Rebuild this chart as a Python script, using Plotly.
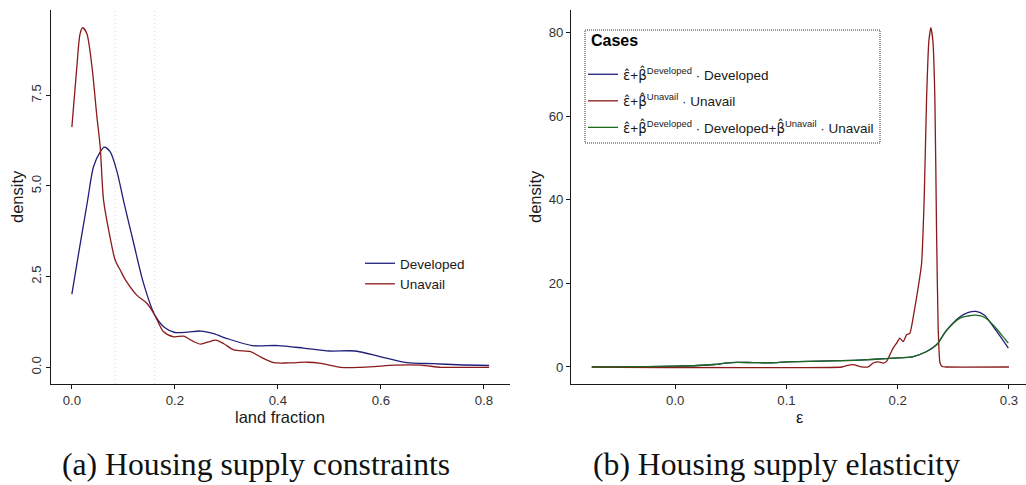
import plotly.graph_objects as go

# ---------------- data: panel (a) land fraction densities ----------------
land_dev_x = [0, 0.015, 0.03, 0.042, 0.055, 0.063, 0.0745, 0.0875, 0.1, 0.11, 0.12, 0.139, 0.161,
              0.18, 0.2, 0.225, 0.25, 0.275, 0.3, 0.35, 0.4, 0.45, 0.5, 0.55, 0.6, 0.65,
              0.7, 0.75, 0.81]
land_dev_y = [2.02, 3.3, 4.55, 5.53, 5.94, 6.07, 5.94, 5.4, 4.61, 4.01, 3.42, 2.32, 1.44,
              1.1, 0.96, 0.97, 1.0, 0.93, 0.8, 0.6, 0.6, 0.53, 0.45, 0.45, 0.29, 0.13,
              0.1, 0.07, 0.05]

land_unav_x = [0, 0.0097, 0.016, 0.021, 0.029, 0.039, 0.0486, 0.055, 0.0615, 0.0727, 0.084,
               0.095, 0.104, 0.126, 0.146, 0.161, 0.178, 0.198, 0.217, 0.235, 0.25, 0.265,
               0.279, 0.295, 0.314, 0.347, 0.367, 0.392, 0.42, 0.457, 0.483, 0.522, 0.56,
               0.587, 0.626, 0.678, 0.716, 0.76, 0.81]
land_unav_y = [6.62, 8.29, 9.2, 9.36, 9.2, 8.29, 6.91, 6.08, 4.61, 3.69, 2.96,
               2.65, 2.41, 1.99, 1.76, 1.44, 0.98, 0.84, 0.86, 0.72, 0.64, 0.7,
               0.75, 0.65, 0.48, 0.43, 0.28, 0.13, 0.12, 0.14, 0.11, 0.0, 0.0,
               0.02, 0.06, 0.06, 0.0, 0.0, 0.0]

land_vlines = [0.084, 0.1606]
land_xticks = [0, 0.2, 0.4, 0.6, 0.8]
land_xtick_labels = ["0.0", "0.2", "0.4", "0.6", "0.8"]
land_yticks = [0, 2.5, 5, 7.5]
land_ytick_labels = ["0.0", "2.5", "5.0", "7.5"]

# ---------------- data: panel (b) elasticity densities ----------------
eps_x = [-0.075, -0.05, -0.025, 0, 0.02, 0.035, 0.045, 0.055, 0.07, 0.085, 0.1, 0.12, 0.14,
         0.16, 0.18, 0.196, 0.214, 0.226, 0.235, 0.244, 0.256, 0.263, 0.2703, 0.278, 0.286,
         0.293, 0.2994]
eps_dev = [0.02, 0.05, 0.1, 0.2, 0.35, 0.6, 0.9, 1.1, 1.05, 1.0, 1.2, 1.35, 1.45,
           1.6, 1.85, 2.1, 2.5, 3.7, 5.3, 8.8, 12.0, 13.0, 13.3, 12.4, 9.6,
           7.0, 4.5]
eps_both = [0.02, 0.05, 0.1, 0.2, 0.35, 0.6, 0.9, 1.1, 1.05, 1.0, 1.2, 1.35, 1.45,
            1.6, 1.85, 2.1, 2.5, 3.7, 5.4, 8.8, 11.7, 12.2, 12.4, 11.9, 10.0,
            7.8, 5.7]

eps_unav_x = [-0.075, 0.15, 0.154, 0.16, 0.166, 0.1734, 0.178, 0.1824, 0.187, 0.19, 0.1929,
              0.1959, 0.199, 0.2019, 0.2049, 0.208, 0.2109, 0.2145, 0.217, 0.2214, 0.2238,
              0.2259, 0.228, 0.2298, 0.2316, 0.2334, 0.2349, 0.2364, 0.238, 0.240, 0.243, 0.3]
eps_unav_y = [0, 0, 0.3, 0.55, 0.1, 0, 0.95, 1.2, 0.95, 1.35, 2.9,
              4.5, 5.7, 6.9, 6.1, 7.7, 8.05, 12.8, 16.7, 24.6, 40.4,
              64, 78, 81.2, 78, 64, 32.5, 8.8, 0.95, 0.1, 0, 0]

eps_xticks = [0, 0.1, 0.2, 0.3]
eps_xtick_labels = ["0.0", "0.1", "0.2", "0.3"]
eps_yticks = [0, 20, 40, 60, 80]
eps_ytick_labels = ["0", "20", "40", "60", "80"]

series_names = ["Developed", "Unavail"]
HAT_E = "<span style=\"font-family:'DejaVu Sans'\">ε\u0302</span>"
HAT_B = "<span style=\"font-family:'DejaVu Sans'\">β\u0302</span>"
case_names = [
    f"{HAT_E}+{HAT_B}<sup>Developed</sup> · Developed",
    f"{HAT_E}+{HAT_B}<sup>Unavail</sup> · Unavail",
    f"{HAT_E}+{HAT_B}<sup>Developed</sup> · Developed+{HAT_B}<sup>Unavail</sup> · Unavail",
]
legend2_title = "<b>Cases</b>"
captions = ["(a) Housing supply constraints", "(b) Housing supply elasticity"]

BLUE = "#1f1f7a"
RED = "#8b1a1a"
GREEN = "#1b6b1b"
SANS = "Liberation Sans, Arial, sans-serif"
W, H = 1026, 485

fig = go.Figure()

fig.add_trace(go.Scatter(x=land_dev_x, y=land_dev_y, mode="lines", name=series_names[0],
                         line=dict(color=BLUE, width=1.3, shape="spline", smoothing=0.8),
                         xaxis="x", yaxis="y", legend="legend"))
fig.add_trace(go.Scatter(x=land_unav_x, y=land_unav_y, mode="lines", name=series_names[1],
                         line=dict(color=RED, width=1.3, shape="spline", smoothing=0.8),
                         xaxis="x", yaxis="y", legend="legend"))

fig.add_trace(go.Scatter(x=eps_x, y=eps_dev, mode="lines", name=case_names[0],
                         line=dict(color=BLUE, width=1.3, shape="spline", smoothing=0.8),
                         xaxis="x2", yaxis="y2", legend="legend2", legendgroup="a"))
fig.add_trace(go.Scatter(x=eps_unav_x, y=eps_unav_y, mode="lines", name=case_names[1],
                         line=dict(color=RED, width=1.3, shape="spline", smoothing=0.5),
                         xaxis="x2", yaxis="y2", legend="legend2", legendgroup="b"))
fig.add_trace(go.Scatter(x=eps_x, y=eps_both, mode="lines", name=case_names[2],
                         line=dict(color=GREEN, width=1.3, shape="spline", smoothing=0.8),
                         xaxis="x2", yaxis="y2", legend="legend2", legendgroup="c"))

for v in land_vlines:
    fig.add_shape(type="line", xref="x", yref="y domain", x0=v, x1=v, y0=0, y1=1,
                  line=dict(color="#dadada", width=1, dash="1px,3px"), layer="below")

# dotted legend frame of panel (b)
fig.add_shape(type="rect", xref="paper", yref="paper",
              x0=585 / W, x1=880 / W, y0=1 - 143 / H, y1=1 - 30 / H,
              line=dict(color="#333333", width=1, dash="1px,1px"))

axis_common = dict(showline=True, linecolor="#1a1a1a", linewidth=1.1, ticks="outside",
                   ticklen=4, tickwidth=1.1, tickcolor="#1a1a1a", showgrid=False,
                   zeroline=False, tickfont=dict(family=SANS, size=13.2, color="#333333"))
ydom = [101 / H, 475 / H]

fig.update_layout(
    width=W, height=H, margin=dict(l=0, r=0, t=0, b=0),
    paper_bgcolor="white", plot_bgcolor="white",
    xaxis=dict(domain=[51 / W, 510 / W], range=[-0.0405, 0.8505], anchor="y",
               tickvals=land_xticks, ticktext=land_xtick_labels, **axis_common),
    yaxis=dict(domain=ydom, range=[-0.46, 9.85], anchor="x",
               tickvals=land_yticks, ticktext=land_ytick_labels, tickangle=-90, **axis_common),
    xaxis2=dict(domain=[571 / W, 1.0], range=[-0.0937, 0.3153], anchor="y2",
                tickvals=eps_xticks, ticktext=eps_xtick_labels, **axis_common),
    yaxis2=dict(domain=ydom, range=[-4.07, 85.4], anchor="x2",
                tickvals=eps_yticks, ticktext=eps_ytick_labels, **axis_common),
    legend=dict(x=360 / W, y=1 - 248 / H, xanchor="left", yanchor="top",
                bgcolor="rgba(0,0,0,0)", borderwidth=0,
                font=dict(family=SANS, size=13.5, color="#1a1a1a")),
    legend2=dict(x=583 / W, y=1 - 59 / H, xanchor="left", yanchor="top",
                 bgcolor="rgba(0,0,0,0)", borderwidth=0, tracegroupgap=6,
                 font=dict(family=SANS, size=13.5, color="#1a1a1a")),
    showlegend=True,
)

fig.add_annotation(text=legend2_title, xref="paper", yref="paper", x=589 / W, y=1 - 40 / H,
                   showarrow=False, font=dict(family=SANS, size=16, color="#000"),
                   xanchor="left", yanchor="middle")

title_font = dict(family=SANS, size=16.5, color="#1a1a1a")
fig.add_annotation(text="land fraction", xref="paper", yref="paper", x=280 / W, y=1 - 417 / H,
                   showarrow=False, font=title_font, xanchor="center", yanchor="middle")
fig.add_annotation(text="ε", xref="paper", yref="paper", x=800 / W, y=1 - 417 / H,
                   showarrow=False, font=title_font, xanchor="center", yanchor="middle")
fig.add_annotation(text="density", xref="paper", yref="paper", x=17 / W, y=1 - 197 / H,
                   showarrow=False, font=title_font, textangle=-90,
                   xanchor="center", yanchor="middle")
fig.add_annotation(text="density", xref="paper", yref="paper", x=535 / W, y=1 - 197 / H,
                   showarrow=False, font=title_font, textangle=-90,
                   xanchor="center", yanchor="middle")

cap_font = dict(family="Liberation Serif, Times New Roman, serif", size=31.7, color="#111111")
fig.add_annotation(text=captions[0], xref="paper", yref="paper", x=256 / W, y=1 - 464 / H,
                   showarrow=False, font=cap_font, xanchor="center", yanchor="middle")
fig.add_annotation(text=captions[1], xref="paper", yref="paper", x=776 / W, y=1 - 464 / H,
                   showarrow=False, font=cap_font, xanchor="center", yanchor="middle")

fig.write_html("out.html")
